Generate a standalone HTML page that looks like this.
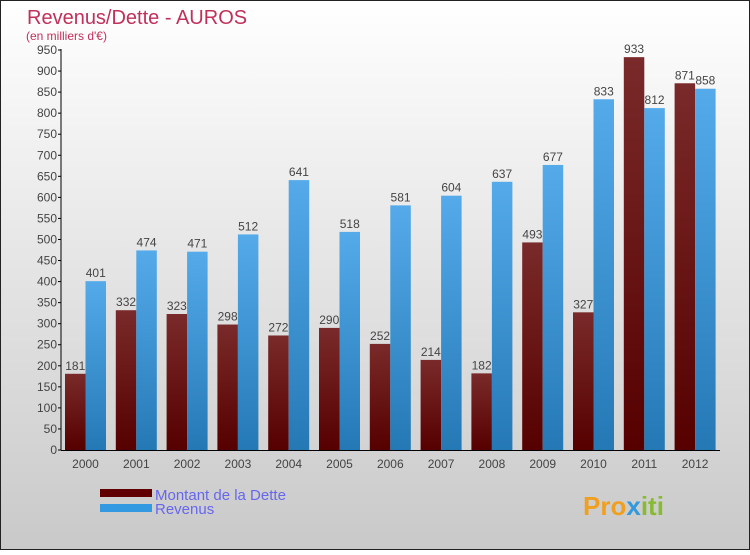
<!DOCTYPE html>
<html><head><meta charset="utf-8"><style>
body{margin:0}
#c{width:750px;height:550px;position:relative;font-family:"Liberation Sans",sans-serif}
</style></head><body>
<div id="c">
<svg id="s" width="750" height="550" xmlns="http://www.w3.org/2000/svg">
<defs>
<linearGradient id="bg" x1="0" y1="0" x2="0" y2="1"><stop offset="0" stop-color="#ffffff"/><stop offset="1" stop-color="#c9c9c9"/></linearGradient>
<linearGradient id="gd" x1="0" y1="0" x2="0" y2="1"><stop offset="0" stop-color="#7a2a2a"/><stop offset="1" stop-color="#560000"/></linearGradient>
<linearGradient id="gr" x1="0" y1="0" x2="0" y2="1"><stop offset="0" stop-color="#55aaea"/><stop offset="1" stop-color="#2479b5"/></linearGradient>
</defs>
<rect x="0.5" y="0.5" width="749" height="549" fill="url(#bg)" stroke="#222"/>
<text x="27" y="24" font-size="20" fill="#c0305a">Revenus/Dette - AUROS</text>
<text x="26" y="40" font-size="12" fill="#c0305a">(en milliers d'€)</text>
<g id="bars"></g>
<g id="axes"></g>
<rect x="100" y="489" width="52" height="8" fill="#600000"/>
<rect x="100" y="504" width="52" height="8" fill="#3399e0"/>
<text x="155" y="500" font-size="15" fill="#6666ee">Montant de la Dette</text>
<text x="155" y="514" font-size="15" fill="#6666ee">Revenus</text>
<text x="583" y="515" font-size="26" font-weight="bold" fill="#f0a020">Pro<tspan fill="#3399dd">x</tspan><tspan fill="#88bb33">iti</tspan></text>
</svg>
</div>
<script>
const years=["2000","2001","2002","2003","2004","2005","2006","2007","2008","2009","2010","2011","2012"];
const dette=[181,332,323,298,272,290,252,214,182,493,327,933,871];
const revenus=[401,474,471,512,641,518,581,604,637,677,833,812,858];
const yTicks=[0,50,100,150,200,250,300,350,400,450,500,550,600,650,700,750,800,850,900,950];
const NS="http://www.w3.org/2000/svg";
const y0=450,yTop=50,vmax=950,x0=65,step=50.8,bw=20.5;
const Y=v=>y0-(v/vmax)*(y0-yTop);
const X=i=>x0+i*step;
const bars=document.getElementById('bars'),axes=document.getElementById('axes');
function mk(t,a,p){const e=document.createElementNS(NS,t);for(const k in a)e.setAttribute(k,a[k]);p.appendChild(e);return e;}
years.forEach((yr,i)=>{
 const d=mk('rect',{x:X(i),y:Y(dette[i]),width:bw,height:y0-Y(dette[i]),fill:'url(#gd)'},bars);
 
 
 const r=mk('rect',{x:X(i)+bw,y:Y(revenus[i]),width:bw,height:y0-Y(revenus[i]),fill:'url(#gr)'},bars);
 
 
 const t1=mk('text',{x:X(i)+bw/2,y:Y(dette[i])-4,'font-size':12,fill:'#444','text-anchor':'middle'},bars);
 t1.textContent=dette[i];
 
 
 const t2=mk('text',{x:X(i)+bw*1.5,y:Y(revenus[i])-4,'font-size':12,fill:'#444','text-anchor':'middle'},bars);
 t2.textContent=revenus[i];
 
 
 const xl=mk('text',{x:X(i)+bw,y:468,'font-size':12,fill:'#444','text-anchor':'middle'},axes);
 xl.textContent=yr;
 
 
});
const ya=mk('line',{x1:61,y1:yTop-1,x2:61,y2:y0,stroke:'#000','stroke-width':1},axes);


const xa=mk('line',{x1:61,y1:y0+0.5,x2:720,y2:y0+0.5,stroke:'#000','stroke-width':1},axes);


yTicks.forEach(v=>{
 mk('line',{x1:58,y1:Y(v),x2:61,y2:Y(v),stroke:'#000'},axes);
 const t=mk('text',{x:57,y:Y(v)+4,'font-size':12,fill:'#444','text-anchor':'end'},axes);
 t.textContent=v;
 
 
});
</script>
</body></html>
